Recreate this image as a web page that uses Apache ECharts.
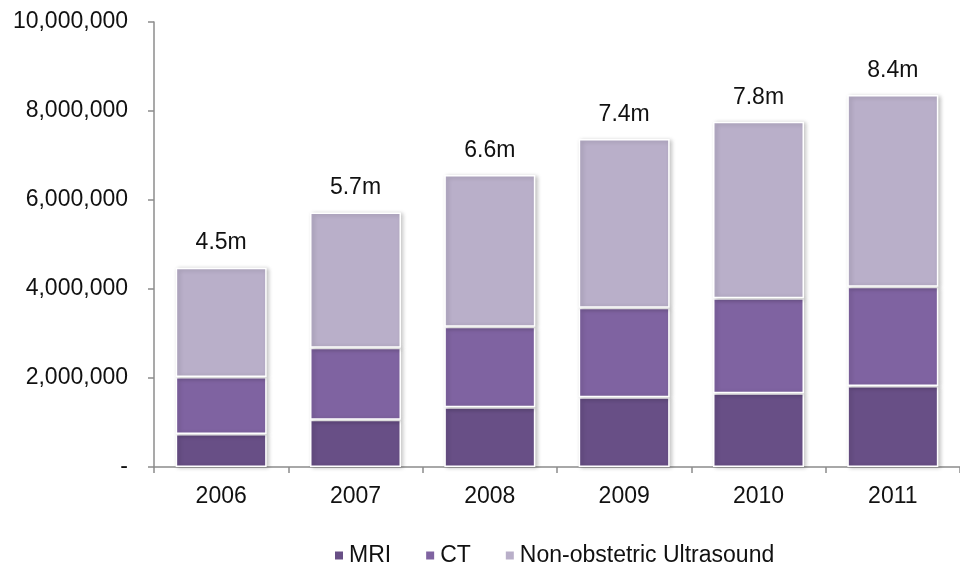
<!DOCTYPE html>
<html>
<head>
<meta charset="utf-8">
<title>Imaging volumes 2006–2011</title>
<script src="https://cdn.jsdelivr.net/npm/echarts@6/dist/echarts.min.js"></script>
<style>
  html, body { margin: 0; padding: 0; background: #ffffff; }
  #chart { width: 960px; height: 569px; }
</style>
</head>
<body>
<div id="chart"></div>
<script>
// Scan counts per year
const years = ['2006', '2007', '2008', '2009', '2010', '2011'];
const mri = [740000, 1060000, 1340000, 1570000, 1660000, 1820000];
const ct = [1280000, 1620000, 1810000, 2010000, 2130000, 2230000];
const ultrasound = [2460000, 3040000, 3410000, 3790000, 3970000, 4310000];
const seriesNames = ['MRI', 'CT', 'Non-obstetric Ultrasound'];
const colors = ['#684f86', '#7f63a1', '#b9afc9'];
const yTicks = { min: 0, max: 10000000, interval: 2000000 };

// Stack totals, shown above each column in millions
const totals = years.map((_, i) => mri[i] + ct[i] + ultrasound[i]);

const fontFamily = '"Liberation Sans", Arial, sans-serif';
const fontSize = 23;
const textColor = '#111111';
const axisGray = '#8c8c8c';

const barStyle = (color) => ({
  color: color,
  borderColor: '#ffffff',
  borderWidth: 1.5,
  shadowColor: 'rgba(0,0,0,0.22)',
  shadowBlur: 4,
  shadowOffsetX: 2,
  shadowOffsetY: 1
});

const makeSeries = (name, data, color, withTotal) => ({
  name: name,
  type: 'bar',
  stack: 'total',
  barWidth: 91,
  data: data,
  itemStyle: barStyle(color),
  emphasis: { disabled: true },
  label: withTotal ? {
    show: true,
    position: 'top',
    distance: 13,
    color: textColor,
    fontFamily: fontFamily,
    fontSize: fontSize,
    formatter: (p) => (totals[p.dataIndex] / 1e6).toFixed(1) + 'm'
  } : { show: false }
});

const chart = echarts.init(document.getElementById('chart'));
chart.setOption({
  animation: false,
  backgroundColor: '#ffffff',
  textStyle: { fontFamily: fontFamily },
  grid: { left: 154, top: 22, width: 814, height: 445, containLabel: false },
  legend: {
    data: seriesNames,
    left: 328,
    top: 539,
    icon: 'rect',
    itemWidth: 10,
    itemHeight: 10,
    itemGap: 33,
    textStyle: { fontSize: fontSize, color: textColor, fontFamily: fontFamily }
  },
  xAxis: {
    type: 'category',
    data: years,
    axisLine: { show: true, lineStyle: { color: axisGray, width: 1.5 } },
    axisTick: { show: true, length: 6, lineStyle: { color: axisGray, width: 1.5 } },
    axisLabel: { color: textColor, fontSize: fontSize, margin: 18, fontFamily: fontFamily }
  },
  yAxis: {
    type: 'value',
    min: yTicks.min,
    max: yTicks.max,
    interval: yTicks.interval,
    splitLine: { show: false },
    axisLine: { show: true, lineStyle: { color: axisGray, width: 1.5 } },
    axisTick: { show: true, length: 6, lineStyle: { color: axisGray, width: 1.5 } },
    axisLabel: {
      color: textColor,
      fontSize: fontSize,
      margin: 26,
      fontFamily: fontFamily,
      formatter: (v) => v === 0 ? '-' : v.toLocaleString('en-US')
    }
  },
  series: [
    makeSeries(seriesNames[0], mri, colors[0], false),
    makeSeries(seriesNames[1], ct, colors[1], false),
    makeSeries(seriesNames[2], ultrasound, colors[2], true)
  ]
});
</script>
</body>
</html>
